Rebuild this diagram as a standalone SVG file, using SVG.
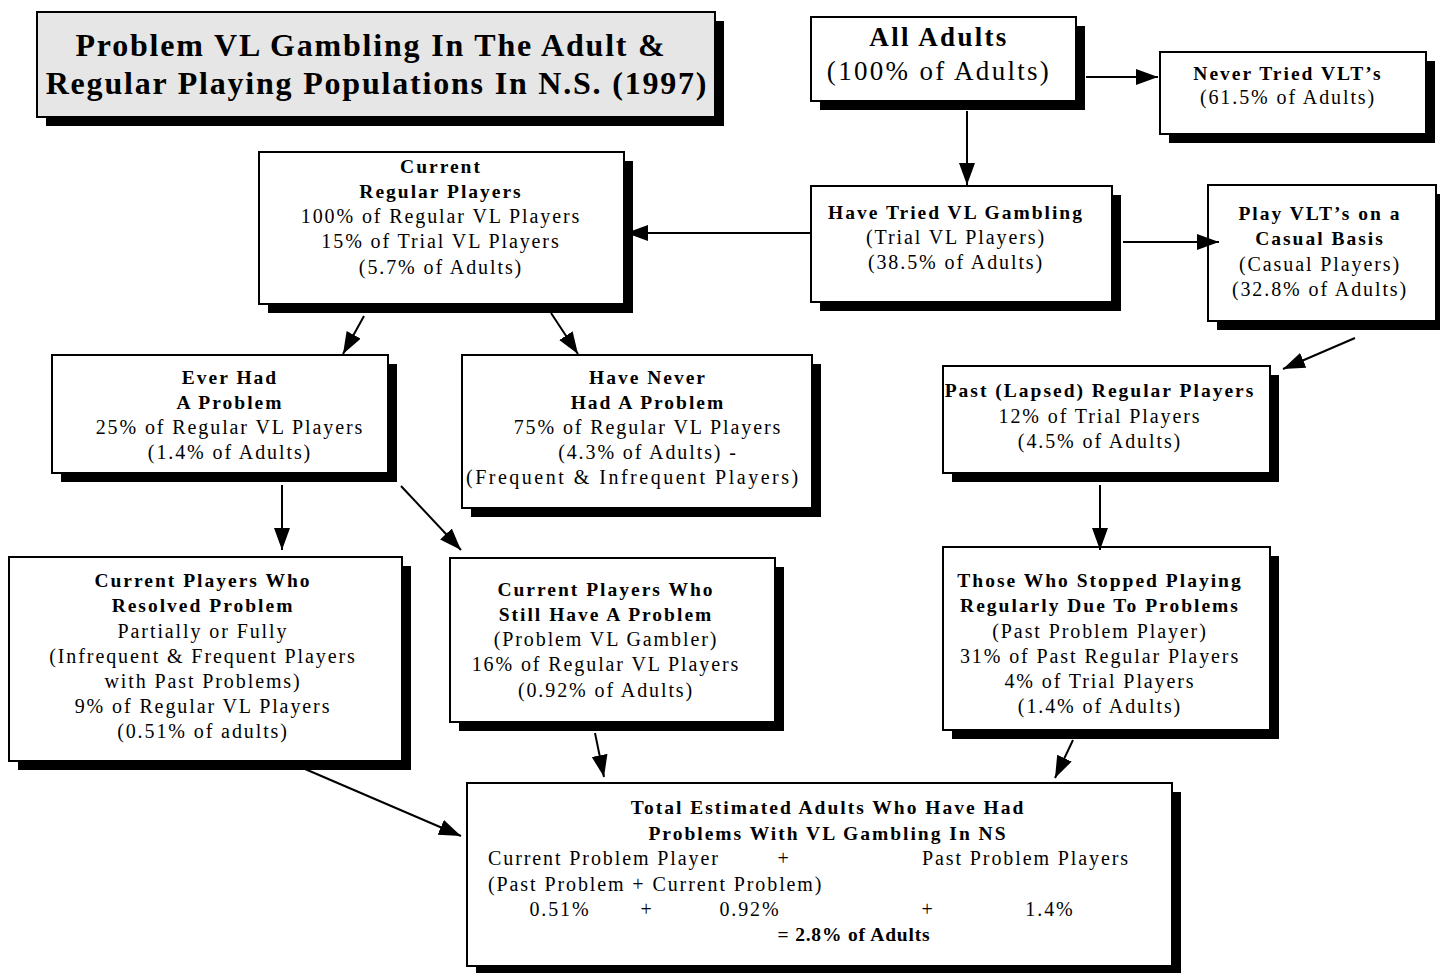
<svg xmlns="http://www.w3.org/2000/svg" width="1440" height="973" viewBox="0 0 1440 973">
<style>
.bg{fill:#ffffff}
.sh{fill:#000000}
.bx{fill:#ffffff;stroke:#000000;stroke-width:2}
.tb{fill:#e6e6e6;stroke:#000000;stroke-width:2}
text{font-family:"Liberation Serif","Times New Roman",serif;fill:#000000}
.b{font-size:19.5px;font-weight:bold;letter-spacing:2px;text-anchor:middle}
.r{font-size:20px;letter-spacing:1.9px;text-anchor:middle}
.rl{font-size:20px;letter-spacing:1.9px}
.t{font-size:32px;font-weight:bold;letter-spacing:1.8px;text-anchor:middle}
.c{stroke:#000000;stroke-width:2;fill:none;marker-end:url(#ah)}
</style>
<defs>
<marker id="ah" markerUnits="userSpaceOnUse" markerWidth="24" markerHeight="18" refX="22" refY="8" orient="auto">
<path d="M0,0 L22,8 L0,16 z" fill="#000000"/>
</marker>
</defs>
<rect class="bg" x="0" y="0" width="1440" height="973"/>

<g id="title">
<rect class="sh" x="46" y="21" width="678" height="105"/>
<rect class="tb" x="37" y="12" width="678" height="105"/>
<text class="t" x="371" y="56">Problem VL Gambling In The Adult &amp;</text>
<text class="t" x="377" y="94">Regular Playing Populations In N.S. (1997)</text>
</g>

<g id="all-adults">
<rect class="sh" x="820" y="26" width="265" height="84"/>
<rect class="bx" x="811" y="17" width="265" height="84"/>
<text class="b" x="939" y="46" style="font-size:27px;letter-spacing:2.3px">All Adults</text>
<text class="r" x="939" y="80" style="font-size:27px;letter-spacing:2.3px">(100% of Adults)</text>
</g>

<g id="never-tried">
<rect class="sh" x="1169" y="61" width="266" height="82"/>
<rect class="bx" x="1160" y="52" width="266" height="82"/>
<text class="b" x="1288" y="80">Never Tried VLT’s</text>
<text class="r" x="1288" y="104">(61.5% of Adults)</text>
</g>

<g id="have-tried">
<rect class="sh" x="820" y="195" width="301" height="116"/>
<rect class="bx" x="811" y="186" width="301" height="116"/>
<text class="b" x="956" y="219">Have Tried VL Gambling</text>
<text class="r" x="956" y="244">(Trial VL Players)</text>
<text class="r" x="956" y="269">(38.5% of Adults)</text>
</g>

<g id="current-regular">
<rect class="sh" x="268" y="161" width="365" height="152"/>
<rect class="bx" x="259" y="152" width="365" height="152"/>
<text class="b" x="441" y="173">Current</text>
<text class="b" x="441" y="198">Regular Players</text>
<text class="r" x="441" y="223">100% of Regular VL Players</text>
<text class="r" x="441" y="248">15% of Trial VL Players</text>
<text class="r" x="441" y="274">(5.7% of Adults)</text>
</g>

<g id="casual">
<rect class="sh" x="1217" y="194" width="228" height="136"/>
<rect class="bx" x="1208" y="185" width="228" height="136"/>
<text class="b" x="1320" y="220">Play VLT’s on a</text>
<text class="b" x="1320" y="245">Casual Basis</text>
<text class="r" x="1320" y="271">(Casual Players)</text>
<text class="r" x="1320" y="296">(32.8% of Adults)</text>
</g>

<g id="past-lapsed">
<rect class="sh" x="952" y="375" width="327" height="107"/>
<rect class="bx" x="943" y="366" width="327" height="107"/>
<text class="b" x="1100" y="397">Past (Lapsed) Regular Players</text>
<text class="r" x="1100" y="423">12% of Trial Players</text>
<text class="r" x="1100" y="448">(4.5% of Adults)</text>
</g>

<g id="stopped">
<rect class="sh" x="952" y="556" width="327" height="183"/>
<rect class="bx" x="943" y="547" width="327" height="183"/>
<text class="b" x="1100" y="587">Those Who Stopped Playing</text>
<text class="b" x="1100" y="612">Regularly Due To Problems</text>
<text class="r" x="1100" y="638">(Past Problem Player)</text>
<text class="r" x="1100" y="663">31% of Past Regular Players</text>
<text class="r" x="1100" y="688">4% of Trial Players</text>
<text class="r" x="1100" y="713">(1.4% of Adults)</text>
</g>

<g id="ever-had">
<rect class="sh" x="61" y="364" width="336" height="118"/>
<rect class="bx" x="52" y="355" width="336" height="118"/>
<text class="b" x="230" y="384">Ever Had</text>
<text class="b" x="230" y="409">A Problem</text>
<text class="r" x="230" y="434">25% of Regular VL Players</text>
<text class="r" x="230" y="459">(1.4% of Adults)</text>
</g>

<g id="never-had">
<rect class="sh" x="471" y="364" width="350" height="153"/>
<rect class="bx" x="462" y="355" width="350" height="153"/>
<text class="b" x="648" y="384">Have Never</text>
<text class="b" x="648" y="409">Had A Problem</text>
<text class="r" x="648" y="434">75% of Regular VL Players</text>
<text class="r" x="648" y="459">(4.3% of Adults) -</text>
<text class="rl" x="466" y="484" textLength="334" lengthAdjust="spacing">(Frequent &amp; Infrequent Players)</text>
</g>

<g id="resolved">
<rect class="sh" x="18" y="566" width="393" height="204"/>
<rect class="bx" x="9" y="557" width="393" height="204"/>
<text class="b" x="203" y="587">Current Players Who</text>
<text class="b" x="203" y="612">Resolved Problem</text>
<text class="r" x="203" y="638">Partially or Fully</text>
<text class="r" x="203" y="663">(Infrequent &amp; Frequent Players</text>
<text class="r" x="203" y="688">with Past Problems)</text>
<text class="r" x="203" y="713">9% of Regular VL Players</text>
<text class="r" x="203" y="738">(0.51% of adults)</text>
</g>

<g id="still-problem">
<rect class="sh" x="459" y="567" width="325" height="164"/>
<rect class="bx" x="450" y="558" width="325" height="164"/>
<text class="b" x="606" y="596">Current Players Who</text>
<text class="b" x="606" y="621">Still Have A Problem</text>
<text class="r" x="606" y="646">(Problem VL Gambler)</text>
<text class="r" x="606" y="671">16% of Regular VL Players</text>
<text class="r" x="606" y="697">(0.92% of Adults)</text>
</g>

<g id="total">
<rect class="sh" x="476" y="792" width="705" height="183"/>
<rect class="bx" x="467" y="783" width="705" height="183"/>
<text class="b" x="828" y="814">Total Estimated Adults Who Have Had</text>
<text class="b" x="828" y="840">Problems With VL Gambling In NS</text>
<text class="rl" x="488" y="865">Current Problem Player</text>
<text class="r" x="784" y="865">+</text>
<text class="rl" x="922" y="865">Past Problem Players</text>
<text class="rl" x="488" y="891">(Past Problem + Current Problem)</text>
<text class="r" x="560" y="916">0.51%</text>
<text class="r" x="647" y="916">+</text>
<text class="r" x="750" y="916">0.92%</text>
<text class="r" x="928" y="916">+</text>
<text class="r" x="1050" y="916">1.4%</text>
<text class="b" x="854" y="941" style="letter-spacing:0.8px">= 2.8% of Adults</text>
</g>

<g id="connectors">
<line class="c" x1="1086" y1="77" x2="1158" y2="77"/>
<line class="c" x1="967" y1="111" x2="967" y2="185"/>
<line class="c" x1="811" y1="233" x2="626" y2="233"/>
<line class="c" x1="1123" y1="242" x2="1219" y2="242"/>
<line class="c" x1="1355" y1="338" x2="1283" y2="369"/>
<line class="c" x1="1100" y1="485" x2="1100" y2="550"/>
<line class="c" x1="1073" y1="740" x2="1055" y2="778"/>
<line class="c" x1="364" y1="316" x2="343" y2="354"/>
<line class="c" x1="551" y1="313" x2="578" y2="354"/>
<line class="c" x1="282" y1="485" x2="282" y2="550"/>
<line class="c" x1="401" y1="486" x2="461" y2="550"/>
<line class="c" x1="595" y1="733" x2="604" y2="777"/>
<line class="c" x1="305" y1="769" x2="461" y2="836"/>
</g>
</svg>
